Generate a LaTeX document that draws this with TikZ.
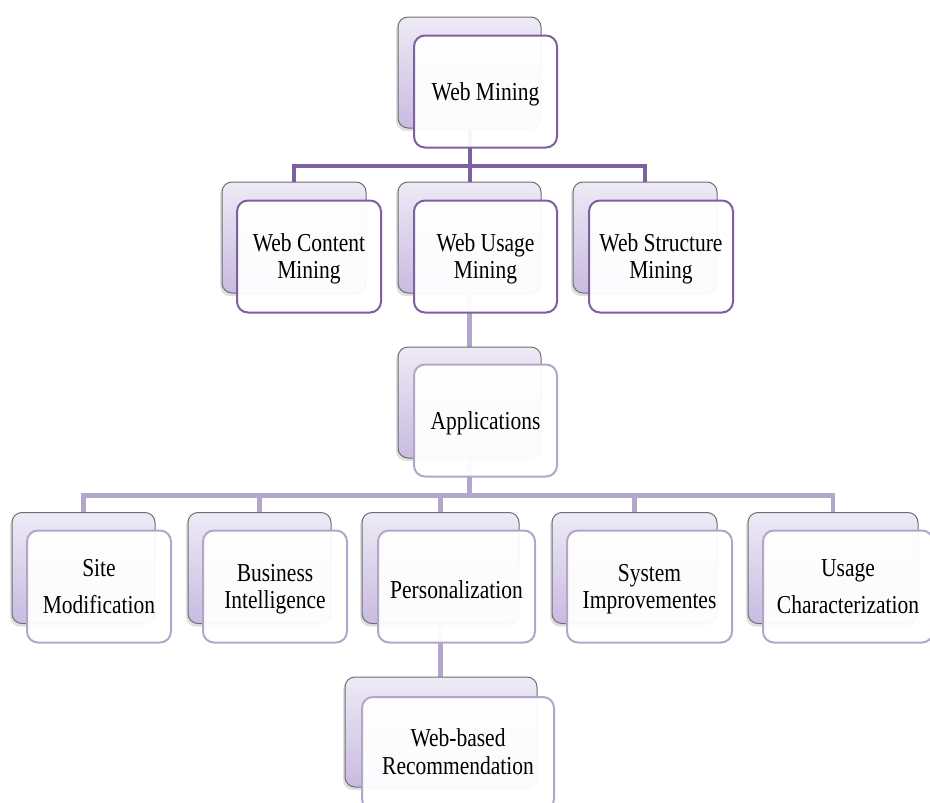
\documentclass[tikz,border=0pt]{standalone}
\usepackage{fontspec}
\setmainfont{Liberation Serif}
\usetikzlibrary{shadows,calc}
\definecolor{bfillA}{HTML}{EEEAF5}
\definecolor{bfillB}{HTML}{C8BBE0}
\definecolor{dline}{HTML}{7D60A2}
\definecolor{lline}{HTML}{B3A6CB}
\definecolor{bdraw}{HTML}{6E6E6E}
\pgfdeclarelayer{bg}
\pgfsetlayers{bg,main}
\newcommand{\twol}[3][0pt]{\scalebox{1}[1.2]{\begin{tabular}{@{}c@{}}#2\\[#1]#3\end{tabular}}}
\newcommand{\onel}[1]{\scalebox{1}[1.2]{#1}}
\begin{document}
\begin{tikzpicture}[x=1pt,y=-1pt,
  backbox/.style={draw=bdraw, line width=1pt, rounded corners=10pt,
    top color=bfillA, bottom color=bfillB, inner sep=0pt, minimum height=111,
    drop shadow={shadow xshift=-2pt, shadow yshift=-3pt, opacity=0.25}},
  frontbox/.style={draw=#1, line width=2pt, rounded corners=11pt,
    fill=white, fill opacity=0.95, draw opacity=1, inner sep=0pt, minimum height=112},
  txt/.style={font=\fontsize{21.5}{23}\selectfont, inner sep=0pt, text=black, yshift=-3pt},
  dlink/.style={draw=dline, line width=4pt},
  llink/.style={draw=lline, line width=4.5pt}
]
\useasboundingbox (0,0) rectangle (930,803);

% Level 0
\node[backbox, minimum width=143] (wmB) at (469.5,72.5) {};
\node[frontbox=dline, minimum width=143] (wmF) at (485.5,91.5) {};
\node[txt] (wmT) at (wmF) {\onel{Web Mining}};

% Level 1
\node[backbox, minimum width=144] (wcB) at (294,237.5) {};
\node[frontbox=dline, minimum width=144] (wcF) at (309,256.5) {};
\node[txt] (wcT) at (wcF) {\twol{Web Content}{Mining}};

\node[backbox, minimum width=143] (wuB) at (469.5,237.5) {};
\node[frontbox=dline, minimum width=143] (wuF) at (485.5,256.5) {};
\node[txt] (wuT) at (wuF) {\twol{Web Usage}{Mining}};

\node[backbox, minimum width=144] (wsB) at (645,237.5) {};
\node[frontbox=dline, minimum width=144] (wsF) at (661,256.5) {};
\node[txt] (wsT) at (wsF) {\twol{Web Structure}{Mining}};

% Level 2
\node[backbox, minimum width=143] (apB) at (469.5,402.5) {};
\node[frontbox=lline, minimum width=143] (apF) at (485.5,420.5) {};
\node[txt] (apT) at (apF) {\onel{Applications}};

% Level 3
\node[backbox, minimum width=143] (smB) at (83.5,568) {};
\node[frontbox=lline, minimum width=144] (smF) at (99,586.5) {};
\node[txt] (smT) at (smF) {\twol[8.5pt]{Site}{Modification}};

\node[backbox, minimum width=143] (biB) at (259.5,568) {};
\node[frontbox=lline, minimum width=144] (biF) at (275,586.5) {};
\node[txt] (biT) at (biF) {\twol{Business}{Intelligence}};

\node[backbox, minimum width=157] (peB) at (440.5,568) {};
\node[frontbox=lline, minimum width=157] (peF) at (456.5,586.5) {};
\node[txt] (peT) at (peF) {\onel{Personalization}};

\node[backbox, minimum width=165] (siB) at (634.5,568) {};
\node[frontbox=lline, minimum width=165] (siF) at (649.5,586.5) {};
\node[txt] (siT) at (siF) {\twol{System}{Improvementes}};

\node[backbox, minimum width=170] (ucB) at (833,568) {};
\node[frontbox=lline, minimum width=170] (ucF) at (848,586.5) {};
\node[txt] (ucT) at (ucF) {\twol[8.5pt]{Usage}{Characterization}};

% Level 4
\node[backbox, minimum width=192, minimum height=110] (wrB) at (441,732) {};
\node[frontbox=lline, minimum width=192, minimum height=113] (wrF) at (458,753.5) {};
\node[txt] (wrT) at (458,752) {\twol{Web-based}{Recommendation}};

% Connectors
\begin{pgfonlayer}{bg}
  \fill[white] (0,0) rectangle (930,803);
  \coordinate (j1) at ($(wmB.south)+(0,37)$);
  \draw[dlink] (wmB.south) -- (j1);
  \draw[dlink] (wcB.north) |- (j1) -| (wsB.north);
  \draw[dlink] (j1) -- (wuB.north);
  \draw[llink] (wuB.south) -- (apB.north);
  \coordinate (j2) at ($(apB.south)+(0,37)$);
  \draw[llink] (apB.south) -- (j2);
  \draw[llink] (smB.north) |- (j2) -| (ucB.north);
  \draw[llink] (biB.north) -- (biB.north |- j2);
  \draw[llink] (peB.north) -- (peB.north |- j2);
  \draw[llink] (siB.north) -- (siB.north |- j2);
  \draw[llink] (peB.south) -- (peB.south |- wrB.north);
\end{pgfonlayer}
\end{tikzpicture}
\end{document}
